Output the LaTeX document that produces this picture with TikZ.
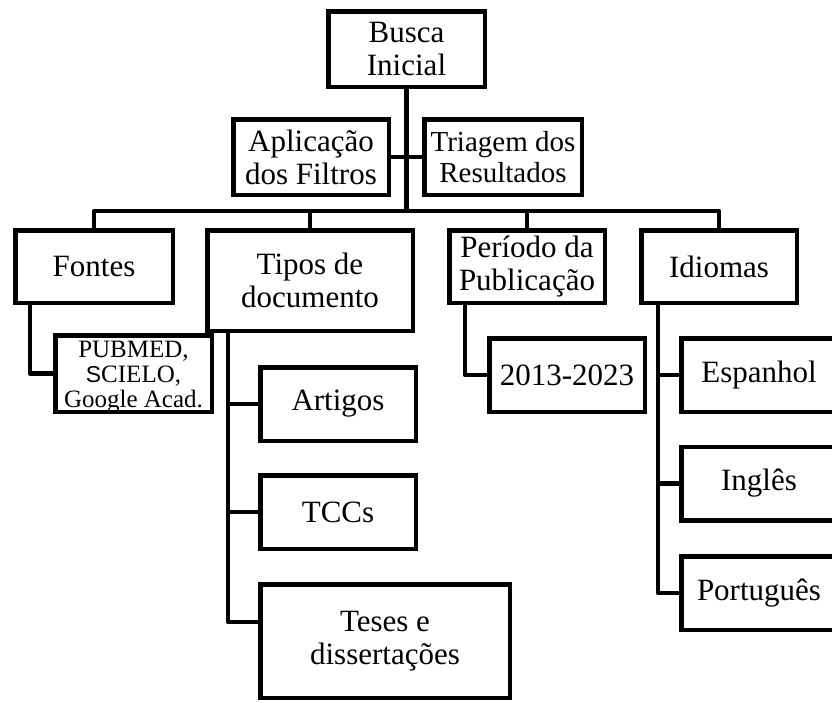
\documentclass[tikz,border=0pt]{standalone}
\usepackage{fontspec}
\setmainfont{Liberation Serif}
\newfontfamily\semserifa{Liberation Sans}
\usepackage{xcolor}

\tikzset{
    caixa/.style={draw, line width=4.5pt, align=center, inner sep=0pt,
        minimum width=155.5pt, minimum height=73.5pt,
        font=\fontsize{31}{33}\selectfont},
    liga/.style={line width=4.5pt, line join=round}
}

\begin{document}
\begin{tikzpicture}[x=1pt,y=-1pt]
    \useasboundingbox (0,0) rectangle (832,702);
    \clip (0,0) rectangle (832,702);

    % Topo
    \node[caixa, minimum width=156.5pt, minimum height=75.5pt] (busca) at (406.5,49) {Busca\\Inicial};
    \node[caixa, minimum height=75.5pt] (aplicacao) at (311,157) {Aplicação\\dos Filtros};
    \node[caixa, minimum width=157.5pt, minimum height=75.5pt,
        font=\fontsize{29}{31}\selectfont] (triagem) at (503,157) {Triagem dos\\Resultados};

    % Categorias
    \node[caixa, minimum width=157.5pt, minimum height=72.5pt] (fontes) at (94,266.5) {Fontes};
    \node[caixa, minimum width=205.5pt, minimum height=100.5pt] (tipos) at (310,280.5) {Tipos de\\documento};
    \node[caixa, minimum height=72.5pt] (periodo) at (527,266.5) {Período da\\Publicação};
    \node[caixa, minimum height=72.5pt] (idiomas) at (719,266.5) {Idiomas};

    % Itens
    \node[align=center, anchor=north, inner sep=0pt,
        font=\fontsize{25}{25}\selectfont] (basestexto) at (133.5,341) {PUBMED,\\{\semserifa\fontsize{23}{25}\selectfont S}CIELO,\\Google Acad.};
    \node[caixa, minimum width=156.5pt, minimum height=76.5pt] (bases) at (133.5,373.5) {};
    \node[caixa] (artigos) at (338,404) {Artigos};
    \node[caixa] (tccs) at (338,512) {TCCs};
    \node[caixa, minimum width=249.5pt, minimum height=113.5pt] (teses) at (385,641) {Teses e\\dissertações};
    \node[caixa] (ano) at (567,375) {2013-2023};
    \node[caixa] (espanhol) at (759,375) {Espanhol};
    \node[caixa] (ingles) at (759,483.5) {Inglês};
    \node[caixa] (portugues) at (759,593) {Português};

    % Ligacoes
    \coordinate (barra) at (406.5,211);
    \draw[liga] (busca) -- (barra);
    \draw[liga] (aplicacao) -- (triagem);
    \draw[liga] (fontes.north) |- (barra) -| (idiomas.north);
    \draw[liga] (tipos.north) -- (tipos.north |- barra);
    \draw[liga] (periodo.north) -- (periodo.north |- barra);

    \draw[liga] ([xshift=17pt]fontes.south west) |- (bases.west);
    \draw[liga] ([xshift=23pt]tipos.south west) |- (artigos.west);
    \draw[liga] ([xshift=23pt]tipos.south west) |- (tccs.west);
    \draw[liga] ([xshift=23pt]tipos.south west) |- ([yshift=19pt]teses.west);
    \draw[liga] ([xshift=18pt]periodo.south west) |- (ano.west);
    \draw[liga] ([xshift=19pt]idiomas.south west) |- (espanhol.west);
    \draw[liga] ([xshift=19pt]idiomas.south west) |- (ingles.west);
    \draw[liga] ([xshift=19pt]idiomas.south west) |- (portugues.west);
\end{tikzpicture}
\end{document}
